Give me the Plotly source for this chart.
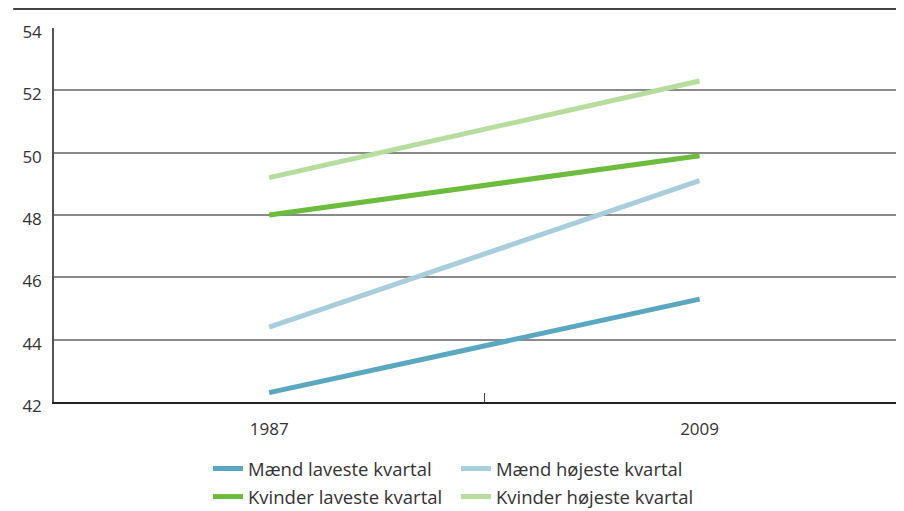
import plotly.graph_objects as go

years = ["1987", "2009"]
maend_laveste = [42.3, 45.3]
maend_hojeste = [44.4, 49.1]
kvinder_laveste = [48.0, 49.9]
kvinder_hojeste = [49.2, 52.3]

names = ["Mænd laveste kvartal", "Mænd højeste kvartal",
         "Kvinder laveste kvartal", "Kvinder højeste kvartal"]
colors = ["#5aa7c0", "#a8cedb", "#6cbd3e", "#b6dc9e"]
series = [maend_laveste, maend_hojeste, kvinder_laveste, kvinder_hojeste]
legends = ["legend", "legend2", "legend", "legend2"]

FONT = "Open Sans"

fig = go.Figure()
for i in [3, 2, 1, 0]:
    fig.add_trace(go.Scatter(
        x=years, y=series[i], mode="lines", name=names[i],
        line=dict(color=colors[i], width=5),
        legend=legends[i], legendgroup=names[i],
        legendrank=i,
    ))

legend_common = dict(
    xref="paper", yref="paper", xanchor="left", yanchor="top",
    orientation="v", font=dict(size=18.5, color="#333333"),
    tracegroupgap=1, bgcolor="rgba(0,0,0,0)", itemwidth=30,
)

# page body has an 8px margin, so the figure is sized to fit the window
fig.update_layout(
    width=896, height=503,
    margin=dict(l=46, r=0, t=20, b=109, autoexpand=False),
    plot_bgcolor="white", paper_bgcolor="white",
    font=dict(family=FONT, size=17, color="#333333"),
    xaxis=dict(
        type="category", range=[-0.5, 1.475],
        showgrid=False, showline=True, linecolor="#222222", linewidth=2,
        ticks="inside", tickson="boundaries", ticklen=9, tickcolor="#444444",
        tickwidth=1, tickfont=dict(size=17, color="#333333"),
        ticklabelstandoff=11,
    ),
    yaxis=dict(
        range=[42, 54], dtick=2, tick0=42,
        showgrid=True, gridcolor="#8a8a8a", gridwidth=1.5,
        showline=True, linecolor="#555555", linewidth=1.5,
        ticks="", tickfont=dict(size=17, color="#333333"),
        ticklabelstandoff=7, ticklabelshift=4, zeroline=False,
    ),
    legend=dict(x=0.1812, y=-0.1283, **legend_common),
    legend2=dict(x=0.4729, y=-0.1283, **legend_common),
    shapes=[dict(type="line", xref="paper", yref="paper",
                 x0=-0.048, x1=1.0, y0=1.051, y1=1.051,
                 line=dict(color="#444444", width=2))],
)

fig.write_html("out.html")
